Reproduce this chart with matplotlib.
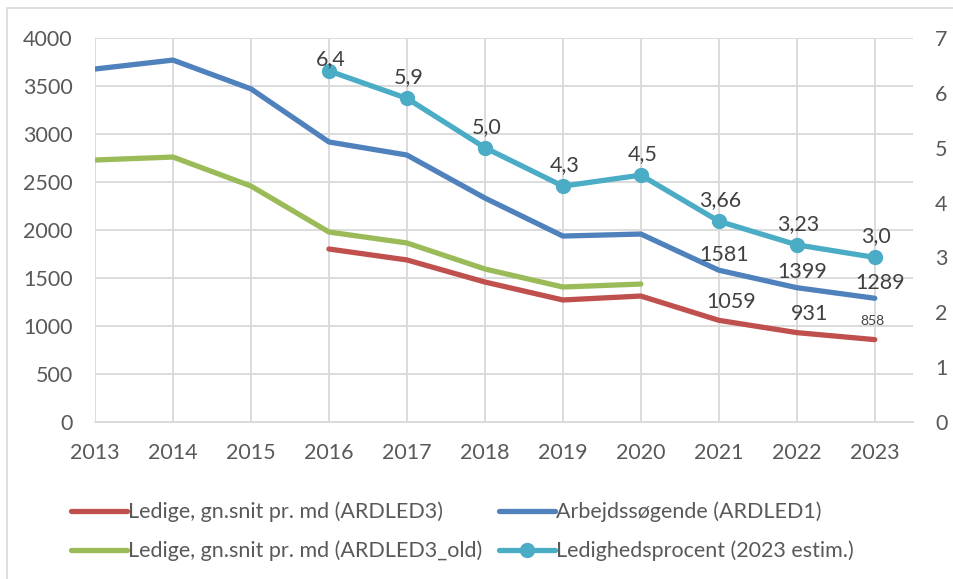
import numpy as np
import matplotlib
import matplotlib.pyplot as plt
from matplotlib.lines import Line2D

matplotlib.use("Agg")

plt.rcParams["font.family"] = ["Lato", "DejaVu Sans"]

years = ["2013", "2014", "2015", "2016", "2017", "2018", "2019", "2020", "2021", "2022", "2023"]
ardled1 = [3677, 3770, 3470, 2917, 2781, 2333, 1937, 1958, 1581, 1399, 1289]
ardled3_old = [2729, 2760, 2458, 1979, 1865, 1594, 1406, 1437]
ardled3 = [1802, 1688, 1458, 1271, 1312, 1059, 931, 858]
pct = [6.4, 5.9, 5.0, 4.3, 4.5, 3.66, 3.23, 3.0]
pct_labels = ["6,4", "5,9", "5,0", "4,3", "4,5", "3,66", "3,23", "3,0"]

RED = "#c0504d"
BLUE = "#4f81bd"
GREEN = "#9bbb59"
CYAN = "#4bacc6"
TXT = "#595959"
LBL = "#404040"
FS = 15.5

x = np.arange(len(years))

fig = plt.figure(figsize=(9.54, 5.79), dpi=100)
ax = fig.add_axes([95 / 954, 1 - 422 / 579, (913 - 95) / 954, (422 - 38) / 579])
ax2 = ax.twinx()

lw = 3.8
ax.plot(x[3:], ardled3, color=RED, lw=lw, solid_capstyle="round", zorder=3)
ax.plot(x, ardled1, color=BLUE, lw=lw, solid_capstyle="round", zorder=3)
ax.plot(x[:8], ardled3_old, color=GREEN, lw=lw, solid_capstyle="round", zorder=3)
ax2.plot(x[3:], pct, color=CYAN, lw=lw, marker="o", markersize=10, solid_capstyle="round", zorder=3)

ax.set_xlim(0, 10.49)
ax.set_ylim(0, 4000)
ax2.set_ylim(0, 7)
ax.set_yticks(range(0, 4001, 500))
ax2.set_yticks(range(0, 8))
ax.set_xticks(x)
ax.set_xticklabels(years)

ax.grid(True, color="#d9d9d9", lw=1.3)
ax.set_axisbelow(True)
for a in (ax, ax2):
    for s in a.spines.values():
        s.set_visible(False)
    a.tick_params(length=0, labelsize=FS, colors=TXT)
ax.spines["bottom"].set_visible(True)
ax.spines["bottom"].set_color("#d9d9d9")
ax.spines["bottom"].set_linewidth(1.3)
ax.tick_params(axis="y", pad=16)
ax.tick_params(axis="x", pad=15)
ax2.tick_params(axis="y", pad=16)

# data labels
for xi, v, s in zip(x[3:], pct, pct_labels):
    dy = 1 if xi == 3 else 8
    ax2.annotate(s, (xi, v), xytext=(1, dy), textcoords="offset points",
                 ha="center", va="bottom", fontsize=FS, color=LBL, zorder=5)
for xi, v in zip(x[8:], ardled1[8:]):
    ax.annotate(str(v), (xi, v), xytext=(4, 4), textcoords="offset points",
                ha="center", va="bottom", fontsize=FS, color=LBL, zorder=5)
for xi, v in zip(x[8:10], ardled3[5:7]):
    ax.annotate(str(v), (xi, v), xytext=(9, 6), textcoords="offset points",
                ha="center", va="bottom", fontsize=FS, color=LBL, zorder=5)
ax.annotate(str(ardled3[7]), (x[10], ardled3[7]), xytext=(-2, 9), textcoords="offset points",
            ha="center", va="bottom", fontsize=10, color=LBL, zorder=5)

handles = [
    Line2D([], [], color=RED, lw=lw, solid_capstyle="round"),
    Line2D([], [], color=GREEN, lw=lw, solid_capstyle="round"),
    Line2D([], [], color=BLUE, lw=lw, solid_capstyle="round"),
    Line2D([], [], color=CYAN, lw=lw, marker="o", markersize=10, solid_capstyle="round"),
]
labels = [
    "Ledige, gn.snit pr. md (ARDLED3)",
    "Ledige, gn.snit pr. md (ARDLED3_old)",
    "Arbejdssøgende (ARDLED1)",
    "Ledighedsprocent (2023 estim.)",
]
leg = fig.legend(handles, labels, ncol=2, loc="upper left", bbox_to_anchor=(62 / 954, 1 - 493 / 579),
                 frameon=False, fontsize=FS, handlelength=2.6, handletextpad=0.05,
                 columnspacing=0.8, labelspacing=0.85, labelcolor=TXT, borderaxespad=0)

# outer chart border
fig.patches.append(plt.Rectangle((7 / 954, -0.01), 1.1, 1 - 8 / 579 + 0.01, transform=fig.transFigure,
                                 fill=False, edgecolor="#d9d9d9", lw=1.2))

fig.savefig("out.png", dpi=100)
